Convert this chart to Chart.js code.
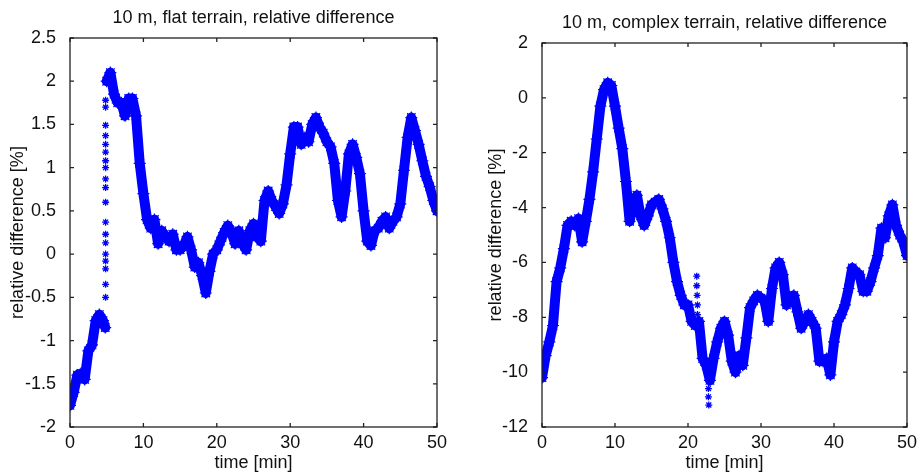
<!DOCTYPE html>
<html>
<head>
<meta charset="utf-8">
<script src="https://cdn.jsdelivr.net/npm/chart.js@4"></script>
<style>
  html, body { margin: 0; padding: 0; background: #fff; }
  #wrap { position: relative; width: 917px; height: 473px; }
  .box { position: absolute; top: 0; height: 473px; }
  #boxLeft { left: 0; width: 458px; }
  #boxRight { left: 458px; width: 459px; }
</style>
</head>
<body>
<div id="wrap">
  <div class="box" id="boxLeft"><canvas id="chartLeft"></canvas></div>
  <div class="box" id="boxRight"><canvas id="chartRight"></canvas></div>
</div>
<script>
// valores, paso de 0.5 min
const leftPreTimes = [0, 0.5, 1, 1.5, 2, 2.5, 3, 3.5, 4, 4.5, 4.8];
const leftPreValues = [-1.75, -1.6, -1.4, -1.38, -1.45, -1.12, -1.05, -0.77, -0.7, -0.77, -0.85];

// puntos sueltos del salto cerca de t = 4.85
const leftJumpValues = [-0.5, -0.35, -0.17, -0.08, 0.0, 0.13, 0.23, 0.37, 0.6, 0.77, 0.87, 1.0, 1.08, 1.18, 1.27, 1.37, 1.49, 1.7, 1.78];

// t = 5 .. 50
const leftPostValues = [
  2.0, 2.1, 1.85, 1.75, 1.75, 1.6, 1.8, 1.8, 1.6, 1.05,
  0.7, 0.4, 0.3, 0.4, 0.12, 0.27, 0.2, 0.15, 0.23, 0.05,
  0.05, 0.1, 0.2, 0.05, -0.15, -0.1, -0.25, -0.45, -0.2, 0.0,
  0.05, 0.15, 0.25, 0.33, 0.25, 0.12, 0.27, 0.12, 0.05, 0.27,
  0.35, 0.2, 0.15, 0.62, 0.73, 0.62, 0.55, 0.47, 0.58, 0.8,
  1.16, 1.47, 1.47, 1.27, 1.35, 1.3, 1.5, 1.58, 1.47, 1.4,
  1.3, 1.24, 1.05, 0.62, 0.43, 0.73, 1.16, 1.27, 1.12, 0.93,
  0.5, 0.15, 0.1, 0.27, 0.3, 0.38, 0.43, 0.3, 0.38, 0.43,
  0.58, 0.97, 1.35, 1.58, 1.43, 1.27, 1.08, 0.9, 0.78, 0.62,
  0.5
];

// t = 0 .. 50
const rightValues = [
  -10.2, -9.4, -8.9, -8.3, -6.7, -6.2, -5.5, -4.65, -4.5, -4.65,
  -4.4, -5.25, -4.5, -3.7, -2.7, -1.5, -0.3, 0.3, 0.55, 0.45,
  -0.3, -1.1, -1.85, -3.05, -4.5, -3.8, -3.55, -4.3, -4.65, -4.3,
  -3.9, -3.8, -3.7, -4.05, -4.5, -5.1, -6.0, -6.7, -7.2, -7.55,
  -7.55, -8.15, -8.3, -8.15, -9.5, -9.75, -10.3, -9.5, -8.9, -8.4,
  -8.15, -8.65, -9.6, -10.0, -9.4, -9.75, -8.75, -7.65, -7.4, -7.2,
  -7.3, -7.4, -8.15, -6.95, -6.2, -6.0, -6.45, -7.55, -7.3, -7.2,
  -7.8, -8.4, -8.15, -7.9, -8.15, -8.4, -9.6, -9.6, -9.5, -10.1,
  -8.9, -8.15, -7.9, -7.55, -6.95, -6.2, -6.35, -6.45, -7.05, -7.05,
  -6.7, -6.2, -5.75, -4.75, -5.1, -4.3, -3.9, -4.65, -5.0, -5.25,
  -5.75
];
const rightSpikeTimes = [21.2, 21.2, 21.25, 21.3, 21.3, 22.8, 22.8, 22.85];
const rightSpikeValues = [-6.5, -6.85, -7.2, -7.55, -7.9, -10.6, -10.9, -11.2];

const xTicks = [0, 10, 20, 30, 40, 50];
const leftYTicks = [-2, -1.5, -1, -0.5, 0, 0.5, 1, 1.5, 2, 2.5];
const rightYTicks = [-12, -10, -8, -6, -4, -2, 0, 2];

const BLUE = '#0000ff';
const FONT = 'Liberation Sans, Arial, sans-serif';
const FSIZE = 18;

function toPoints(times, values) {
    return values.map((v, i) => ({ x: times[i], y: v }));
}
function stepPoints(start, values) {
    return values.map((v, i) => ({ x: start + i * 0.5, y: v }));
}

// caja estilo matlab con marcas hacia adentro
const boxPlugin = {
    id: 'matlabBox',
    afterDraw(chart, args, opts) {
        const { ctx, chartArea: a, scales: { x, y } } = chart;
        ctx.save();
        ctx.strokeStyle = '#222';
        ctx.lineWidth = 1.3;
        ctx.strokeRect(a.left, a.top, a.right - a.left, a.bottom - a.top);
        const len = 4;
        ctx.beginPath();
        opts.xTicks.forEach(t => {
            const px = x.getPixelForValue(t);
            ctx.moveTo(px, a.bottom); ctx.lineTo(px, a.bottom - len);
            ctx.moveTo(px, a.top); ctx.lineTo(px, a.top + len);
        });
        opts.yTicks.forEach(t => {
            const py = y.getPixelForValue(t);
            ctx.moveTo(a.left, py); ctx.lineTo(a.left + len, py);
            ctx.moveTo(a.right, py); ctx.lineTo(a.right - len, py);
        });
        ctx.stroke();
        // titulo
        ctx.fillStyle = '#111';
        ctx.font = FSIZE + 'px ' + FONT;
        ctx.textAlign = 'center';
        ctx.textBaseline = 'middle';
        ctx.fillText(opts.title, (a.left + a.right) / 2, opts.titleY);
        ctx.restore();
    }
};

function makeChart(canvasId, cfg) {
    return new Chart(document.getElementById(canvasId), {
        type: 'scatter',
        data: { datasets: cfg.datasets },
        options: {
            responsive: true,
            maintainAspectRatio: false,
            animation: false,
            layout: { padding: { top: cfg.top, right: cfg.right, left: 0, bottom: 0 } },
            plugins: {
                legend: { display: false },
                tooltip: { enabled: false },
                matlabBox: { xTicks: xTicks, yTicks: cfg.yTicks, title: cfg.title, titleY: cfg.titleY }
            },
            scales: {
                x: {
                    type: 'linear',
                    min: 0, max: 50,
                    afterFit: s => { s.height = 46; },
                    afterBuildTicks: s => { s.ticks = xTicks.map(v => ({ value: v })); },
                    grid: { display: false },
                    border: { display: false },
                    ticks: { color: '#111', font: { family: FONT, size: FSIZE }, padding: -3, maxRotation: 0,
                             callback: v => String(v) },
                    title: { display: true, text: 'time [min]', color: '#111',
                             font: { family: FONT, size: FSIZE }, padding: { top: 0, bottom: -1 } }
                },
                y: {
                    type: 'linear',
                    min: cfg.yMin, max: cfg.yMax,
                    afterFit: s => { s.width = cfg.yWidth; },
                    afterBuildTicks: s => { s.ticks = cfg.yTicks.map(v => ({ value: v })); },
                    grid: { display: false },
                    border: { display: false },
                    ticks: { color: '#111', font: { family: FONT, size: FSIZE }, padding: 6,
                             callback: v => String(v) },
                    title: { display: true, text: 'relative difference [%]', color: '#111',
                             font: { family: FONT, size: FSIZE }, padding: { top: cfg.yTitlePad, bottom: 0 } }
                }
            }
        },
        plugins: [boxPlugin]
    });
}

function bandSet(points) {
    return {
        data: points,
        showLine: true,
        borderColor: BLUE,
        backgroundColor: BLUE,
        borderWidth: 10,
        borderJoinStyle: 'round',
        borderCapStyle: 'round',
        pointStyle: 'star',
        pointRadius: 6,
        pointBorderWidth: 1.2,
        pointBorderColor: BLUE,
        tension: 0
    };
}
function dotSet(points) {
    return {
        data: points,
        showLine: false,
        pointStyle: 'star',
        pointRadius: 3.5,
        pointBorderWidth: 1.3,
        pointBorderColor: BLUE,
        backgroundColor: BLUE
    };
}

document.addEventListener('DOMContentLoaded', function() {
    const jumpTimes = leftJumpValues.map(() => 4.85);
    makeChart('chartLeft', {
        title: '10 m, flat terrain, relative difference',
        titleY: 18,
        top: 38, right: 21,
        yWidth: 70, yTitlePad: 7,
        yMin: -2, yMax: 2.5,
        yTicks: leftYTicks,
        datasets: [
            bandSet(toPoints(leftPreTimes, leftPreValues)),
            dotSet(toPoints(jumpTimes, leftJumpValues)),
            bandSet(stepPoints(5, leftPostValues))
        ]
    });
    makeChart('chartRight', {
        title: '10 m, complex terrain, relative difference',
        titleY: 23,
        top: 43, right: 10,
        yWidth: 84, yTitlePad: 27,
        yMin: -12, yMax: 2,
        yTicks: rightYTicks,
        datasets: [
            bandSet(stepPoints(0, rightValues)),
            dotSet(toPoints(rightSpikeTimes, rightSpikeValues))
        ]
    });
});
</script>
</body>
</html>
